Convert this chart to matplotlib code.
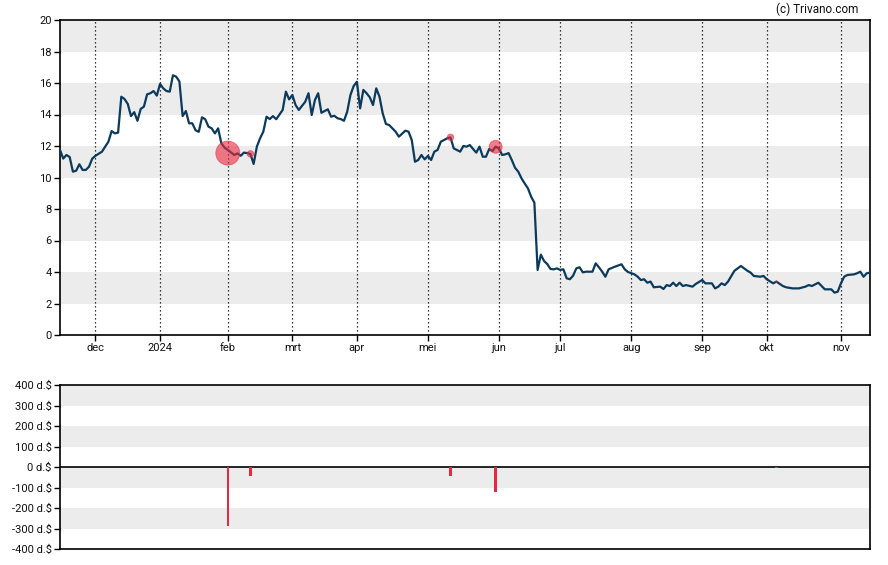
import matplotlib
matplotlib.use("Agg")
import matplotlib.pyplot as plt
import numpy as np

plt.rcParams['font.family'] = ['Roboto', 'DejaVu Sans']

# trading-day index (0 = 15 Nov 2023) and closing price
day_idx = [0, 1, 2, 3, 4, 5, 6, 7, 8, 9, 10, 11, 13, 14, 15, 16, 17, 18, 19, 20,
           21, 22, 23, 24, 25, 26, 27, 28, 29, 30, 31, 32, 33, 34, 35, 36, 37, 38, 39, 40,
           41, 42, 43, 44, 45, 46, 47, 48, 49, 50, 51, 52, 54, 55, 56, 57, 58, 59, 60, 61,
           62, 63, 64, 65, 66, 67, 69, 70, 71, 72, 73, 74, 76, 77, 78, 79, 80, 81, 83, 84,
           85, 86, 87, 88, 89, 90, 91, 92, 93, 94, 95, 96, 97, 98, 99, 100, 101, 102, 104, 105,
           107, 108, 109, 110, 111, 112, 113, 114, 115, 116, 117, 118, 120, 121, 122, 124, 125, 126, 127, 128,
           129, 130, 131, 132, 133, 134, 135, 136, 137, 138, 139, 140, 141, 142, 143, 144, 145, 146, 147, 148,
           149, 150, 151, 152, 153, 154, 155, 156, 157, 158, 159, 160, 161, 162, 163, 165, 166, 167, 168, 169,
           170, 172, 174, 175, 176, 178, 179, 180, 181, 182, 183, 184, 186, 187, 188, 189, 190, 191, 192, 193,
           194, 196, 197, 199, 200, 202, 203, 204, 205, 206, 207, 209, 210, 211, 212, 213, 214, 215, 217, 218,
           219, 221, 222, 224, 225, 227, 229, 231, 232, 233, 235, 236, 237, 239, 240, 241, 242, 243, 244, 246,
           247, 248, 249, 250, 251]
price = [11.75, 11.2, 11.43, 11.3, 10.37, 10.43, 10.84, 10.48, 10.48, 10.69, 11.2, 11.38, 11.64, 11.96, 12.27, 12.95, 12.8, 12.85, 15.13, 14.98,
         14.67, 13.9, 14.15, 13.6, 14.35, 14.5, 15.28, 15.35, 15.49, 15.2, 15.94, 15.66, 15.49, 15.45, 16.49, 16.4, 16.1, 13.9, 14.22, 13.44,
         13.44, 13.0, 12.9, 13.82, 13.7, 13.23, 13.12, 12.8, 13.12, 12.17, 11.9, 11.75, 11.43, 11.53, 11.38, 11.58, 11.55, 11.49, 10.86, 11.96,
         12.49, 12.91, 13.86, 13.71, 13.9, 13.7, 14.29, 15.45, 14.96, 15.24, 14.6, 14.29, 14.81, 15.35, 13.97, 14.92, 15.35, 14.11, 14.33, 13.86,
         13.92, 13.76, 13.71, 13.6, 14.18, 15.24, 15.81, 16.08, 14.39, 15.56, 15.35, 15.09, 14.6, 15.66, 15.13, 14.07, 13.4, 13.33, 12.91, 12.59,
         12.97, 12.91, 12.38, 11.0, 11.11, 11.43, 11.15, 11.37, 11.11, 11.64, 11.75, 12.27, 12.49, 12.55, 11.85, 11.64, 12.0, 11.96, 12.06, 11.81,
         11.58, 11.96, 11.32, 11.32, 11.81, 11.68, 11.96, 11.85, 11.43, 11.47, 11.55, 11.11, 10.62, 10.37, 9.95, 9.62, 9.31, 8.78, 8.4, 4.13,
         5.1, 4.7, 4.5, 4.19, 4.17, 4.23, 4.13, 4.17, 3.6, 3.54, 3.77, 4.23, 4.3, 3.98, 4.02, 4.02, 4.55, 4.3, 4.02, 3.7,
         4.17, 4.34, 4.49, 4.17, 4.0, 3.85, 3.7, 3.49, 3.54, 3.32, 3.39, 3.03, 3.07, 2.92, 3.17, 3.11, 3.32, 3.11, 3.32, 3.11,
         3.17, 3.07, 3.24, 3.49, 3.28, 3.28, 2.96, 3.07, 3.28, 3.17, 3.39, 4.08, 4.23, 4.38, 4.23, 4.08, 3.96, 3.75, 3.7, 3.75,
         3.54, 3.28, 3.39, 3.11, 3.03, 2.96, 2.96, 3.07, 3.17, 3.11, 3.32, 3.11, 2.9, 2.9, 2.69, 2.75, 3.28, 3.7, 3.81, 3.85,
         3.92, 4.02, 3.7, 3.92, 3.96]

# insider transactions (trading-day index, value in thousand $)
trade_idx = [52, 59, 121, 135, 222]
trade_val = [-290, -45, -45, -120, -5]
trade_price = [11.55, 11.5, 12.55, 11.95, 3.39]

month_idx = [11, 31, 52, 72, 92, 114, 136, 155, 177, 199, 219, 242]
month_lbl = ['dec', '2024', 'feb', 'mrt', 'apr', 'mei', 'jun', 'jul', 'aug', 'sep', 'okt', 'nov']

price_ticks = list(range(0, 21, 2))
vol_ticks = list(range(-400, 401, 100))

LINE = '#0b3a5c'
RED = '#e8283c'
BAND = '#ececec'
TXT = '#111111'

fig = plt.figure(figsize=(8.88, 5.65), dpi=100)
W, H = 888, 565
ax = fig.add_axes([60 / W, 1 - 335 / H, 810 / W, 315 / H])
ax2 = fig.add_axes([60 / W, 1 - 549 / H, 810 / W, 164 / H])

xmin, xmax = 0, 251

# top chart
for lo in range(2, 20, 4):
    ax.axhspan(lo, lo + 2, color=BAND, lw=0, zorder=0)
for m in month_idx:
    ax.axvline(m, color='black', lw=0.9, ls=(0, (1, 2.2)), zorder=1)
ax.plot(day_idx, price, color=LINE, lw=1.6, zorder=3, solid_joinstyle='round')
sizes = [(2 * 12 * (abs(v) / 290) ** 0.7 * 0.72) ** 2 for v in trade_val]
ax.scatter(trade_idx, trade_price, s=sizes, color=RED, alpha=0.6, edgecolors=RED,
           linewidths=0.6, zorder=4)
ax.set_xlim(xmin, xmax)
ax.set_ylim(0, 20)
ax.set_yticks(price_ticks)
ax.set_xticks(month_idx)
ax.set_xticklabels(month_lbl)

# bottom chart
for lo in (300, 100, -100, -300):
    ax2.axhspan(lo, lo + 100, color=BAND, lw=0, zorder=0)
ax2.axhline(0, color='black', lw=1.2, zorder=2)
ax2.bar(trade_idx, trade_val, width=0.75, color=RED, zorder=3)
ax2.set_xlim(xmin, xmax)
ax2.set_ylim(-400, 400)
ax2.set_yticks(vol_ticks)
ax2.set_yticklabels([f'{v} d.$' for v in vol_ticks])
ax2.set_xticks([])

for a in (ax, ax2):
    for s in a.spines.values():
        s.set_color('black')
        s.set_linewidth(1.2)
    a.tick_params(axis='both', length=4, width=1, color='black', labelsize=8,
                  labelcolor=TXT, pad=2)

fig.text(858 / W, 1 - 9 / H, '(c) Trivano.com', ha='right', va='center',
         fontsize=8.5, color=TXT)

fig.savefig('out.png', dpi=100)
